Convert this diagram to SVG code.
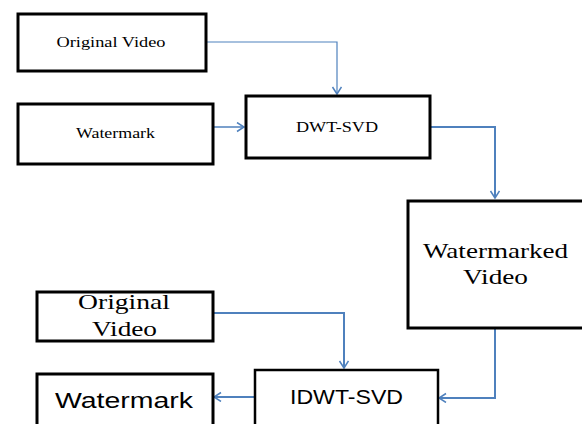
<svg xmlns="http://www.w3.org/2000/svg" width="582" height="424" viewBox="0 0 582 424">
<style>
.box{fill:#fff;stroke:#000;stroke-width:3}
.serif{font-family:"Liberation Serif","Times New Roman",serif;fill:#000}
.sans{font-family:"Liberation Sans",Arial,sans-serif;fill:#000}
.con{fill:none;stroke:#4f81bd;stroke-width:2}
</style>
<defs>
<marker id="arr" markerUnits="userSpaceOnUse" markerWidth="12" markerHeight="12" refX="8" refY="5" orient="auto">
<path d="M1,0.5 L8,5 L1,9.5" fill="none" stroke="#4f81bd" stroke-width="1.5"/>
</marker>
</defs>
<rect width="582" height="424" fill="#fff"/>
<g id="connectors">
<path class="con" style="stroke-width:1.2" d="M206,42 H337 V94" marker-end="url(#arr)"/>
<path class="con" style="stroke-width:1.5" d="M213,127 H244" marker-end="url(#arr)"/>
<path class="con" d="M430,127 H495 V198" marker-end="url(#arr)"/>
<path class="con" d="M213,313 H344 V368" marker-end="url(#arr)"/>
<path class="con" d="M495,329 V398 H439" marker-end="url(#arr)"/>
<path class="con" d="M254,397 H214" marker-end="url(#arr)"/>
</g>
<g id="original-video-1">
<rect class="box" x="18" y="14" width="188" height="57"/>
<text class="serif" x="111" y="47" font-size="14" text-anchor="middle" textLength="109" lengthAdjust="spacingAndGlyphs">Original Video</text>
</g>
<g id="watermark-1">
<rect class="box" x="18" y="104" width="195" height="60"/>
<text class="serif" x="115.5" y="138" font-size="14" text-anchor="middle" textLength="79" lengthAdjust="spacingAndGlyphs">Watermark</text>
</g>
<g id="dwt-svd">
<rect class="box" x="246" y="96" width="184" height="62"/>
<text class="serif" x="337" y="132" font-size="14" text-anchor="middle" textLength="82" lengthAdjust="spacingAndGlyphs">DWT-SVD</text>
</g>
<g id="watermarked-video">
<rect class="box" x="408" y="201" width="184" height="127"/>
<text class="serif" x="495.5" y="258" font-size="22" text-anchor="middle" textLength="145" lengthAdjust="spacingAndGlyphs">Watermarked</text>
<text class="serif" x="495.5" y="284" font-size="22" text-anchor="middle" textLength="65" lengthAdjust="spacingAndGlyphs">Video</text>
</g>
<g id="original-video-2">
<rect class="box" x="37" y="292" width="176" height="49"/>
<text class="serif" x="124" y="309" font-size="21" text-anchor="middle" textLength="92" lengthAdjust="spacingAndGlyphs">Original</text>
<text class="serif" x="124.5" y="336" font-size="21" text-anchor="middle" textLength="65" lengthAdjust="spacingAndGlyphs">Video</text>
</g>
<g id="watermark-2">
<rect class="box" x="37" y="374" width="176" height="60"/>
<text class="sans" x="124" y="408" font-size="22" text-anchor="middle" textLength="138" lengthAdjust="spacingAndGlyphs">Watermark</text>
</g>
<g id="idwt-svd">
<rect class="box" style="stroke-width:2.5" x="255" y="370" width="183" height="64"/>
<text class="sans" x="346.5" y="404" font-size="20" text-anchor="middle" textLength="113" lengthAdjust="spacingAndGlyphs">IDWT-SVD</text>
</g>
</svg>
